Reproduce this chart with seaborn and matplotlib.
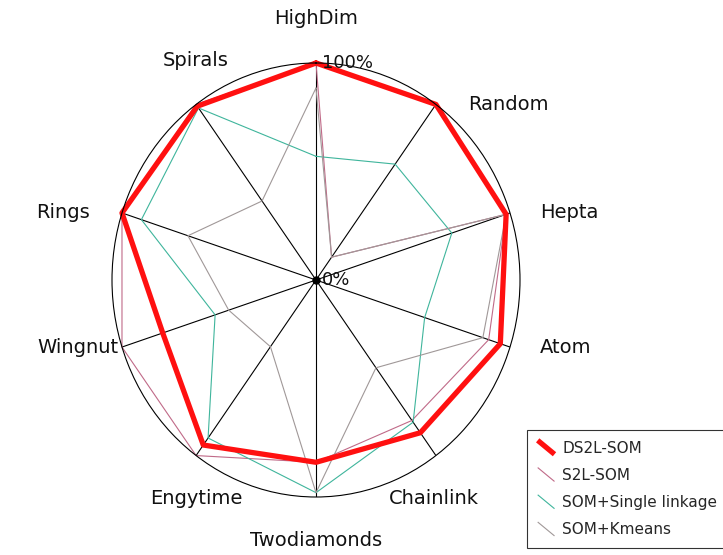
import numpy as np
import pandas as pd
import matplotlib
matplotlib.use("Agg")
import matplotlib.pyplot as plt
import seaborn as sns
from matplotlib.lines import Line2D
from matplotlib.legend_handler import HandlerBase
import matplotlib.transforms as mtransforms

# ---- data (fraction of 100%) ----
categories = ["HighDim", "Random", "Hepta", "Atom", "Chainlink",
              "Twodiamonds", "Engytime", "Wingnut", "Rings", "Spirals"]
ds2l_som = [1.00, 1.00, 0.98, 0.95, 0.87, 0.84, 0.94, 0.79, 1.00, 0.99]
s2l_som = [1.00, 0.13, 0.98, 0.89, 0.80, 0.84, 1.00, 1.00, 1.00, 1.00]
som_single = [0.57, 0.66, 0.70, 0.56, 0.81, 0.98, 0.90, 0.52, 0.90, 0.98]
som_kmeans = [0.885, 0.13, 0.98, 0.86, 0.50, 0.98, 0.38, 0.45, 0.66, 0.45]
series_names = ["DS2L-SOM", "S2L-SOM", "SOM+Single linkage", "SOM+Kmeans"]

colors = {"DS2L-SOM": "#ff1010", "S2L-SOM": "#c06a88",
          "SOM+Single linkage": "#3fb59c", "SOM+Kmeans": "#a09898"}
widths = {"DS2L-SOM": 3.8, "S2L-SOM": 0.8,
          "SOM+Single linkage": 0.8, "SOM+Kmeans": 0.8}

sns.set_theme(style="white")
plt.rcParams["font.family"] = ["DejaVu Sans"]

n = len(categories)
theta = np.linspace(0, 2 * np.pi, n, endpoint=False)

values = {"DS2L-SOM": ds2l_som, "S2L-SOM": s2l_som,
          "SOM+Single linkage": som_single, "SOM+Kmeans": som_kmeans}
rows = []
for name in series_names:
    vals = values[name]
    for i in list(range(n)) + [0]:
        rows.append({"method": name, "theta": theta[i], "value": vals[i]})
df = pd.DataFrame(rows)

fig = plt.figure(figsize=(7.23, 5.55), dpi=100)
fig.patch.set_facecolor("white")
ax = fig.add_axes([112 / 723, 58 / 555, 408 / 723, 434 / 555], projection="polar")
ax.set_aspect("auto")
ax.set_theta_zero_location("N")
ax.set_theta_direction(-1)
ax.set_facecolor("white")

draw_order = ["S2L-SOM", "SOM+Single linkage", "SOM+Kmeans", "DS2L-SOM"]
for name in draw_order:
    sub = df[df["method"] == name]
    sns.lineplot(data=sub, x="theta", y="value", sort=False, estimator=None,
                 color=colors[name], linewidth=widths[name], ax=ax,
                 legend=False, clip_on=False)

ax.set_ylim(0, 1)
ax.set_xticks(theta)
ax.set_xticklabels([])
ax.set_yticks([])
ax.set_xlabel("")
ax.set_ylabel("")
ax.xaxis.grid(True, color="black", linewidth=0.8)
ax.yaxis.grid(False)
ax.spines["polar"].set_color("black")
ax.spines["polar"].set_linewidth(0.8)

# centre dot
ax.plot([0], [0], "o", color="black", markersize=5, zorder=5, clip_on=False)

# radial labels
off = mtransforms.offset_copy(ax.transData, fig=fig, x=6, y=0, units="dots")
ax.text(0, 1.0, "100%", transform=off, ha="left", va="center", fontsize=13,
        color="#111111")
ax.text(0, 0.0, "0%", transform=off, ha="left", va="center", fontsize=13,
        color="#111111")

# category labels
label_offsets = {
    "HighDim": (0, 45, "center"),
    "Random": (32, 0, "left"),
    "Hepta": (30, 0, "left"),
    "Atom": (30, 0, "left"),
    "Chainlink": (-2, -43, "center"),
    "Twodiamonds": (0, -44, "center"),
    "Engytime": (0, -43, "center"),
    "Wingnut": (-4, 0, "right"),
    "Rings": (-32, 0, "right"),
    "Spirals": (0, 44, "center"),
}
for t, cat in zip(theta, categories):
    dx, dy, ha = label_offsets[cat]
    ax.annotate(cat, xy=(t, 1.0), xytext=(dx, dy), textcoords="offset pixels",
                ha=ha, va="center", fontsize=14, color="#111111",
                annotation_clip=False)


class DiagHandler(HandlerBase):
    def create_artists(self, legend, orig_handle, xdescent, ydescent,
                       width, height, fontsize, trans):
        x0 = -xdescent
        y0 = -ydescent
        line = Line2D([x0, x0 + width], [y0 + height * 1.15, y0 - height * 0.15],
                      color=orig_handle.get_color(),
                      linewidth=orig_handle.get_linewidth(),
                      solid_capstyle="butt", transform=trans)
        return [line]


handles = [Line2D([], [], color=colors[nm], linewidth=widths[nm]) for nm in series_names]
leg = fig.legend(handles, series_names, loc="lower left",
                 bbox_to_anchor=(527 / 723, 7 / 555), fontsize=11,
                 frameon=True, fancybox=False, edgecolor="black",
                 handlelength=1.1, handletextpad=0.5, labelspacing=0.8,
                 borderpad=0.7, borderaxespad=0,
                 handler_map={Line2D: DiagHandler()})
leg.get_frame().set_linewidth(0.8)
leg.get_frame().set_facecolor("white")

fig.savefig("out.png", dpi=100, facecolor="white")
